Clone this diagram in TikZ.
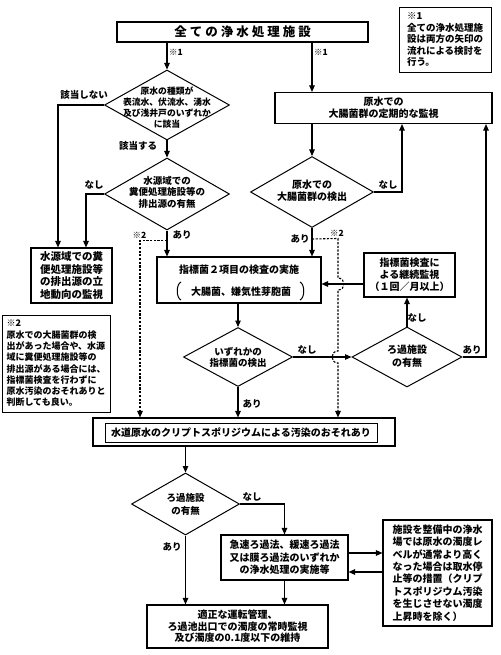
\documentclass[tikz,border=0pt]{standalone}
\usepackage{fontspec}
\setmainfont{Noto Sans CJK JP}
\usetikzlibrary{arrows.meta,shapes.geometric,calc}
\newcommand\fsz[2]{\fontsize{#1}{#2}\selectfont\bfseries}
\newcommand\tsp{\hspace{3pt}}
\begin{document}
\begin{tikzpicture}[x=1pt,y=-1pt,
 box/.style={draw,line width=1.1pt,inner sep=0pt,align=center},
 dia/.style={draw,diamond,line width=1pt,inner sep=0pt},
 txt/.style={inner sep=0pt,align=center},
 lab/.style={inner sep=0pt,font=\fsz{9.5}{11}},
 arr/.style={line width=1.1pt,-{Triangle[length=6.5pt,width=5.5pt]}},
 dsh/.style={line width=1.1pt,dash pattern=on 2.2pt off 1.5pt,-{Triangle[length=6.5pt,width=5.5pt]}},
]
\useasboundingbox (0,0) rectangle (500,655);

% top box
\node[box,minimum width=251pt,minimum height=20pt,font=\fsz{12.5}{14}] (top) at (242.5,32) {全\tsp て\tsp の\tsp 浄\tsp 水\tsp 処\tsp 理\tsp 施\tsp 設};
% note 1
\node[box,line width=0.9pt,minimum width=92pt,minimum height=65pt,align=left,font=\fsz{9.5}{11.5}] (n1) at (445,39.5) {※1\\全ての浄水処理施\\設は両方の矢印の\\流れによる検討を\\行う。};

% diamond 1
\node[dia,minimum width=125pt,minimum height=70pt] (d1) at (167,105) {};
\node[txt,font=\fsz{8.8}{11}] (t1) at (167,107.5) {原水の種類が\\表流水、伏流水、湧水\\及び浅井戸のいずれか\\に該当};
% diamond 2
\node[dia,minimum width=125pt,minimum height=72pt] (d2) at (167,194) {};
\node[txt,font=\fsz{9.5}{11.5}] (t2) at (167,192) {水源域での\\糞便処理施設等の\\排出源の有無};
% monitoring box
\node[box,minimum width=217pt,minimum height=31pt,font=\fsz{10}{12}] (mon) at (383.5,108) {原水での\\大腸菌群の定期的な監視};
% diamond 3
\node[dia,minimum width=123pt,minimum height=71pt] (d3) at (312,192) {};
\node[txt,font=\fsz{10}{12}] (t3) at (312,191) {原水での\\大腸菌群の検出};
% left box
\node[box,minimum width=81pt,minimum height=55pt,font=\fsz{10.5}{12.5}] (lbox) at (71.5,275.5) {水源域での糞\\便処理施設等\\の排出源の立\\地動向の監視};
% note 2
\node[box,line width=0.9pt,minimum width=108pt,minimum height=97pt,align=left,font=\fsz{9}{11.3}] (n2) at (56,363.5) {※2\\原水での大腸菌群の検\\出があった場合や、水源\\域に糞便処理施設等の\\排出源がある場合には、\\指標菌検査を行わずに\\原水汚染のおそれありと\\判断しても良い。};
% box 2
\node[box,minimum width=164pt,minimum height=46pt] (box2) at (239,280) {};
\node[txt,font=\fsz{10}{12}] (t2a) at (239,270) {指標菌２項目の検査の実施};
\node[txt,font=\fsz{10}{12}] (t2b) at (241,292) {大腸菌、嫌気性芽胞菌};
\draw[line width=1pt] (181,282) .. controls (176,284) and (176,298) .. (181,300);
\draw[line width=1pt] (300,282) .. controls (305,284) and (305,298) .. (300,300);
% box 3
\node[box,minimum width=91pt,minimum height=44pt,font=\fsz{10}{12}] (box3) at (409.5,275) {指標菌検査に\\よる継続監視\\（１回／月以上）};
% diamond 4
\node[dia,minimum width=110pt,minimum height=60pt] (d4) at (407,357) {};
\node[txt,font=\fsz{10}{13}] (t4) at (407,356.5) {ろ過施設\\の有無};
% diamond 5
\node[dia,minimum width=109pt,minimum height=59pt] (d5) at (238,357) {};
\node[txt,font=\fsz{9.5}{11.5}] (t5) at (238,357.5) {いずれかの\\指標菌の検出};
% crypto box
\node[box,minimum width=302pt,minimum height=28pt] (crypto) at (244,432) {};
\node[box,line width=1pt,minimum width=272pt,minimum height=19pt,font=\fsz{10}{12}] (cryptoin) at (241,432.5) {水道原水のクリプトスポリジウムによる汚染のおそれあり};
% diamond 6
\node[dia,minimum width=108pt,minimum height=62pt] (d6) at (185.5,504) {};
\node[txt,font=\fsz{9.5}{13}] (t6) at (185.5,504) {ろ過施設\\の有無};
% box 7
\node[box,minimum width=127pt,minimum height=45pt,font=\fsz{10}{12.5}] (box7) at (284.5,557.5) {急速ろ過法、緩速ろ過法\\又は膜ろ過法のいずれか\\の浄水処理の実施等};
% box 8
\node[box,minimum width=109pt,minimum height=106pt,align=left,font=\fsz{10}{12.4}] (box8) at (437.5,573) {施設を整備中の浄水\\場では原水の濁度レ\\ベルが通常より高く\\なった場合は取水停\\止等の措置（クリプ\\トスポリジウム汚染\\を生じさせない濁度\\上昇時を除く）};
% bottom box
\node[box,minimum width=181pt,minimum height=43pt,font=\fsz{10}{11.5}] (bbox) at (237.5,626.5) {適正な運転管理、\\ろ過池出口での濁度の常時監視\\及び濁度の0.1度以下の維持};

% connectors
\draw[arr] (top.south -| d1.north) -- (d1.north);
\draw[arr] (top.south -| d3) -- (mon.north -| d3);
\draw[arr] (d1.west) -| ([xshift=-13.5pt]lbox.north);
\draw[arr] (d1.south) -- (d2.north);
\draw[arr] (d2.west) -| ([xshift=14.5pt]lbox.north);
\draw[arr] (d2.south) -- (box2.north -| d2);
\draw[arr] (mon.south -| d3) -- (d3.north);
\draw[arr] (d3.east) -| ([xshift=18.5pt]mon.south);
\draw[arr] (d3.south) -- (box2.north -| d3);
\draw[arr] (box2.south -| d5) -- (d5.north);
\draw[arr] ([yshift=-9pt]box3.west) -- ([yshift=-9pt]box3.west -| box2.east);
\draw[arr] (d4.north) -- (d4.north |- box3.south);
\draw[arr] (d4.east) -| ([xshift=102.5pt]mon.south);
\draw[arr] (d5.east) -- (d4.west);
\draw[arr] (d5.south) -- (d5.south |- crypto.north);
\draw[dsh] ([yshift=-10pt]d2.south) -| ([xshift=-104pt]crypto.north);
\draw[dsh] ([yshift=-11pt]d3.south) -- (338,238.5) -- (338,278) .. controls (346,278) and (346,290) .. (338,290) -- (338,351) .. controls (330,351) and (330,363) .. (338,363) -- ([xshift=94pt]crypto.north);
\draw[arr] (crypto.south -| d6) -- (d6.north);
\draw[arr] (d6.east) -| (box7.north);
\draw[arr] (d6.south) -- (bbox.north -| d6);
\draw[arr] (box7.south) -- (bbox.north -| box7);
\draw[arr] ([yshift=4.5pt]box7.east) -- ([yshift=4.5pt]box7.east -| box8.west);
\draw[arr] ([yshift=-14.5pt]box7.east -| box8.west) -- ([yshift=-14.5pt]box7.east);

% labels
\node[lab,anchor=west,font=\fsz{8.5}{10}] (k1) at (169,52) {※1};
\node[lab,anchor=west,font=\fsz{8.5}{10}] (k2) at (314,52) {※1};
\node[lab] (l1) at (84,95) {該当しない};
\node[lab] (l2) at (138,146) {該当する};
\node[lab] (l3) at (94,185) {なし};
\node[lab] (l4) at (182,235) {あり};
\node[lab,font=\fsz{8.5}{10}] (l5) at (139.5,235) {※2};
\node[lab] (l6) at (388,185) {なし};
\node[lab] (l7) at (300,239) {あり};
\node[lab,font=\fsz{8.5}{10}] (l8) at (337,233) {※2};
\node[lab] (l9) at (307,350) {なし};
\node[lab] (l10) at (252,404) {あり};
\node[lab] (l11) at (417,318) {なし};
\node[lab] (l12) at (472,350) {あり};
\node[lab] (l13) at (252,497) {なし};
\node[lab] (l14) at (172,547) {あり};
\end{tikzpicture}
\end{document}
